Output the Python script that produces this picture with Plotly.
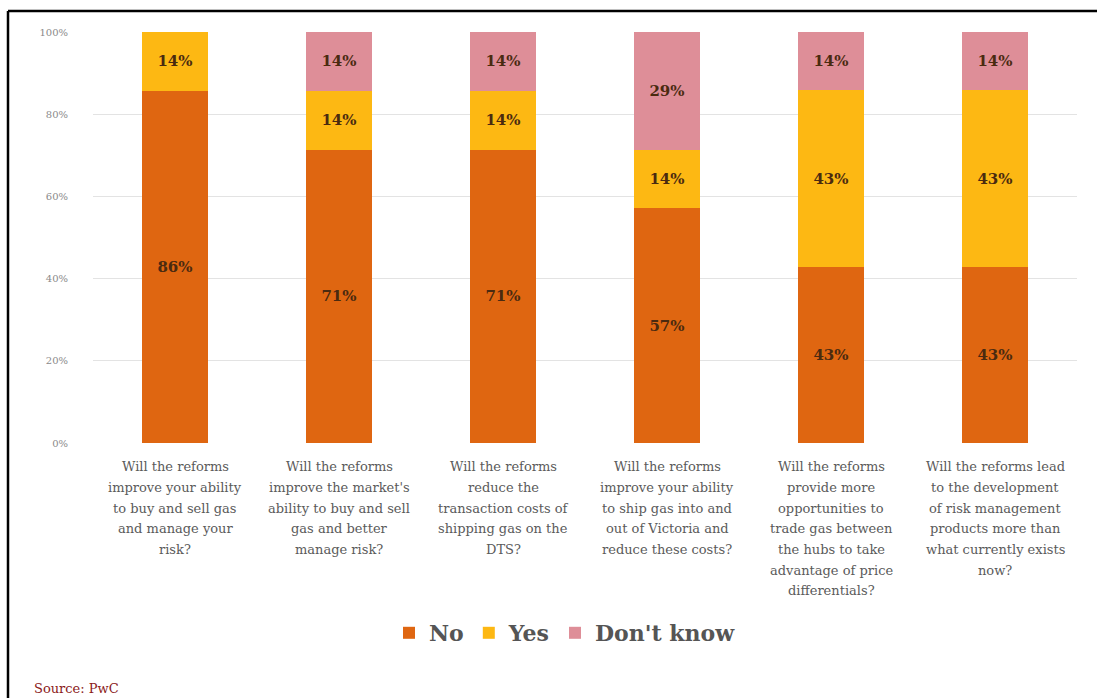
import plotly.graph_objects as go

categories = [
    "Will the reforms<br>improve your ability<br>to buy and sell gas<br>and manage your<br>risk?",
    "Will the reforms<br>improve the market's<br>ability to buy and sell<br>gas and better<br>manage risk?",
    "Will the reforms<br>reduce the<br>transaction costs of<br>shipping gas on the<br>DTS?",
    "Will the reforms<br>improve your ability<br>to ship gas into and<br>out of Victoria and<br>reduce these costs?",
    "Will the reforms<br>provide more<br>opportunities to<br>trade gas between<br>the hubs to take<br>advantage of price<br>differentials?",
    "Will the reforms lead<br>to the development<br>of risk management<br>products more than<br>what currently exists<br>now?",
]
no_vals = [85.7, 71.4, 71.4, 57.1, 42.9, 42.9]
yes_vals = [14.3, 14.3, 14.3, 14.3, 42.9, 42.9]
dk_vals = [0, 14.3, 14.3, 28.6, 14.3, 14.3]
series_names = ["No", "Yes", "Don't know"]
colors = ["#DF6611", "#FDB813", "#DE8E98"]
y_ticks = [0, 20, 40, 60, 80, 100]
y_ticktext = ["0%", "20%", "40%", "60%", "80%", "100%"]

x = list(range(len(categories)))
fig = go.Figure()
for name, vals, col in zip(series_names, [no_vals, yes_vals, dk_vals], colors):
    fig.add_trace(go.Bar(
        x=x, y=vals, name=f"<b>{name}</b>", marker=dict(color=col, line=dict(width=0)),
        width=0.4,
        text=[f"{v:.0f}%" if v > 0 else "" for v in vals],
        textposition="inside", insidetextanchor="middle",
        textfont=dict(family="DejaVu Serif", size=15, color="#4A2A10"),
        texttemplate="<b>%{text}</b>",
        hoverinfo="skip",
    ))

W0, W1 = 93, 1077
H0, H1 = 32, 443
def px(xp):
    return (xp - W0) / (W1 - W0)
def py(yp):
    return (H1 - yp) / (H1 - H0)

annotations = []
for i, cat in enumerate(categories):
    for j, line in enumerate(cat.split("<br>")):
        annotations.append(dict(
            text=line, xref="x", yref="paper", x=i, y=py(467 + j * 20.6),
            xanchor="center", yanchor="middle", showarrow=False,
            font=dict(family="DejaVu Serif", size=13, color="#5A5A5A")))
annotations.append(dict(
    text="Source: PwC", xref="paper", yref="paper", x=px(32), y=py(688),
    xanchor="left", yanchor="middle", showarrow=False,
    font=dict(family="DejaVu Serif", size=13, color="#8B1A1A")))

fig.update_layout(
    barmode="stack",
    width=1097, height=698,
    margin=dict(l=W0, r=1097 - W1, t=H0, b=698 - H1),
    paper_bgcolor="white", plot_bgcolor="white",
    showlegend=True,
    legend=dict(orientation="h", x=px(565), xanchor="center", yref="container",
                y=1 - 633 / 698, yanchor="middle",
                font=dict(family="DejaVu Serif", size=22, color="#555555"),
                traceorder="normal", itemwidth=30),
    xaxis=dict(range=[-0.5, 5.5], showgrid=False, zeroline=False, showline=False,
               ticks="", showticklabels=False),
    yaxis=dict(range=[0, 100], tickvals=y_ticks, ticktext=y_ticktext,
               showgrid=True, gridcolor="#E3E3E3", gridwidth=1,
               zeroline=False, showline=False, ticks="", ticklabelstandoff=24,
               tickfont=dict(family="DejaVu Serif", size=10, color="#8A8A8A")),
    shapes=[
        dict(type="line", xref="paper", yref="paper", x0=px(8), x1=px(1100),
             y0=py(11), y1=py(11), line=dict(color="black", width=2.5)),
        dict(type="line", xref="paper", yref="paper", x0=px(8), x1=px(8),
             y0=py(11), y1=py(700), line=dict(color="black", width=2.5)),
    ],
    annotations=annotations,
)

fig.write_html("out.html")
